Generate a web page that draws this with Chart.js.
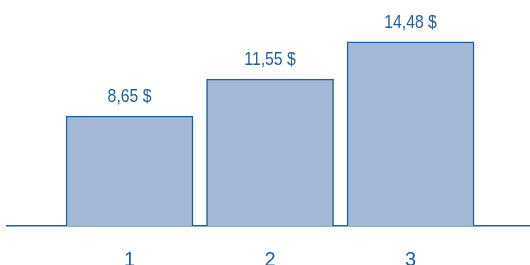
<!DOCTYPE html>
<html>
<head>
<meta charset="utf-8">
<script src="https://cdn.jsdelivr.net/npm/chart.js@4"></script>
<style>
  html, body { margin: 0; padding: 0; background: #fff; }
  #wrap { width: 530px; height: 265px; }
</style>
</head>
<body>
<div id="wrap"><canvas id="barChart"></canvas></div>
<script>
// data
const categories = [1, 2, 3];
const values = [8.65, 11.55, 14.48];
const tickLabels = ['1', '2', '3'];

const blue = '#1f5f9e';
const fontFam = '"Liberation Sans", Arial, sans-serif';

// value labels above bars, french number format, squeezed a bit (narrow font look)
const valueLabels = {
  id: 'valueLabels',
  afterDatasetsDraw(chart) {
    const ctx = chart.ctx;
    const meta = chart.getDatasetMeta(0);
    meta.data.forEach(function(bar, i) {
      const txt = values[i].toFixed(2).replace('.', ',') + ' $';
      ctx.save();
      ctx.translate(bar.x, bar.y - 19);
      ctx.scale(0.83, 1);
      ctx.fillStyle = blue;
      ctx.font = '19px ' + fontFam;
      ctx.textAlign = 'center';
      ctx.textBaseline = 'middle';
      ctx.fillText(txt, 0, 0);
      ctx.restore();
    });
  }
};

const ctx = document.getElementById('barChart');
new Chart(ctx, {
  type: 'bar',
  data: {
    datasets: [{
      data: categories.map((c, i) => ({ x: c, y: values[i] })),
      backgroundColor: '#a5b8d8',
      borderColor: blue,
      borderWidth: 1.5,
      barThickness: 127
    }]
  },
  options: {
    responsive: true,
    maintainAspectRatio: false,
    animation: false,
    layout: { padding: { left: 7, right: 0, top: 0, bottom: 0 } },
    plugins: { legend: { display: false }, tooltip: { enabled: false } },
    scales: {
      x: {
        type: 'linear',
        offset: false,
        min: 0.128,
        max: 3.85,
        grid: { display: false, drawTicks: false },
        border: { display: true, color: blue, width: 1.5 },
        afterBuildTicks: function(axis) {
          axis.ticks = categories.map(v => ({ value: v }));
        },
        afterFit: function(axis) {
          axis.height = 39;
        },
        ticks: {
          padding: 22,
          maxRotation: 0,
          autoSkip: false,
          color: blue,
          font: { family: fontFam, size: 20 },
          callback: function(v) {
            const i = categories.indexOf(v);
            return i >= 0 ? tickLabels[i] : '';
          }
        }
      },
      y: {
        display: false,
        min: 0,
        max: 17.78
      }
    }
  },
  plugins: [valueLabels]
});
</script>
</body>
</html>
